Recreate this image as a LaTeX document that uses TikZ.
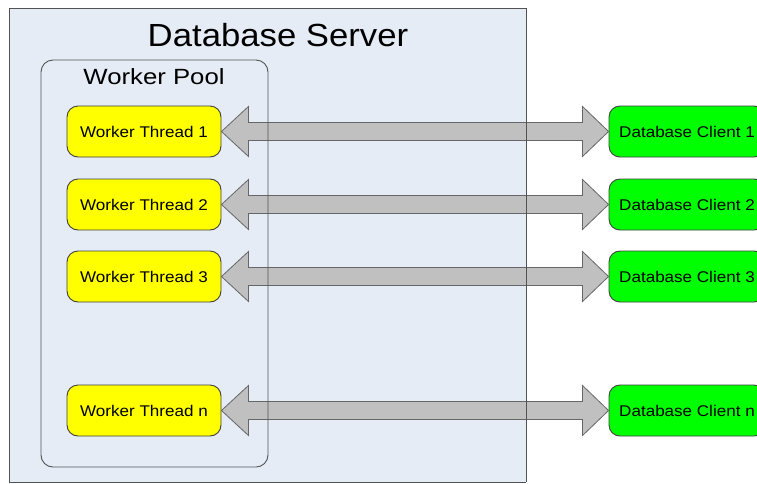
\documentclass[tikz,border=0pt]{standalone}
\usepackage{fontspec}
\setmainfont{Liberation Sans}
\usetikzlibrary{calc}
\definecolor{srvfill}{HTML}{E5ECF6}
\definecolor{edge}{HTML}{404040}
\definecolor{arrowgray}{HTML}{C0C0C0}
\definecolor{thyellow}{HTML}{FFFF00}
\definecolor{clgreen}{HTML}{00FF00}
\newcommand{\wtext}[2]{\scalebox{#1}[1]{#2}}
\tikzset{
  box/.style={draw=edge, line width=0.9pt, rounded corners=11pt, minimum width=154pt, minimum height=51pt, inner sep=0pt, font=\fontsize{15.5}{18}\selectfont},
  thread/.style={box, fill=thyellow},
  client/.style={box, fill=clgreen, minimum width=156pt},
  fatarrow/.style={draw=edge!80, line width=0.8pt, fill=arrowgray},
  frame/.style={draw=edge!90, line width=0.9pt}
}
\begin{document}
\begin{tikzpicture}[x=1pt,y=-1pt]
\useasboundingbox (0,0) rectangle (757,483);
\fill[white] (0,0) rectangle (757,483);
% server background
\fill[srvfill] (9,8) rectangle (526,482);
\node[font=\fontsize{32}{36}\selectfont] (title) at (278,35) {\wtext{1.085}{Database Server}};
\fill[srvfill] (41,60) rectangle (268,467);
\node[font=\fontsize{22}{24}\selectfont] (pool) at (154,77) {\wtext{1.17}{Worker Pool}};
% threads and clients
\foreach \i/\y/\lab in {1/131.5/1, 2/204.5/2, 3/276.5/3, 4/410.5/n}{
  \node[thread] (t\i) at (144,\y) {\wtext{1.1}{Worker Thread \lab}};
  \node[client] (c\i) at (687,\y) {\wtext{1.1}{Database Client \lab}};
  \draw[fatarrow] (t\i.east) -- ($(t\i.east)+(27,-25)$) -- ($(t\i.east)+(27,-9)$)
     -- ($(c\i.west)+(-26,-9)$) -- ($(c\i.west)+(-26,-25)$) -- (c\i.west)
     -- ($(c\i.west)+(-26,25)$) -- ($(c\i.west)+(-26,9)$)
     -- ($(t\i.east)+(27,9)$) -- ($(t\i.east)+(27,25)$) -- cycle;
}
% frames on top
\draw[frame] (9,482) -- (9,8) -- (526,8) -- (526,482);
\draw[frame] (9,482) -- (526,482);
\draw[frame, rounded corners=12pt] (41,60) rectangle (268,467);
\end{tikzpicture}
\end{document}
